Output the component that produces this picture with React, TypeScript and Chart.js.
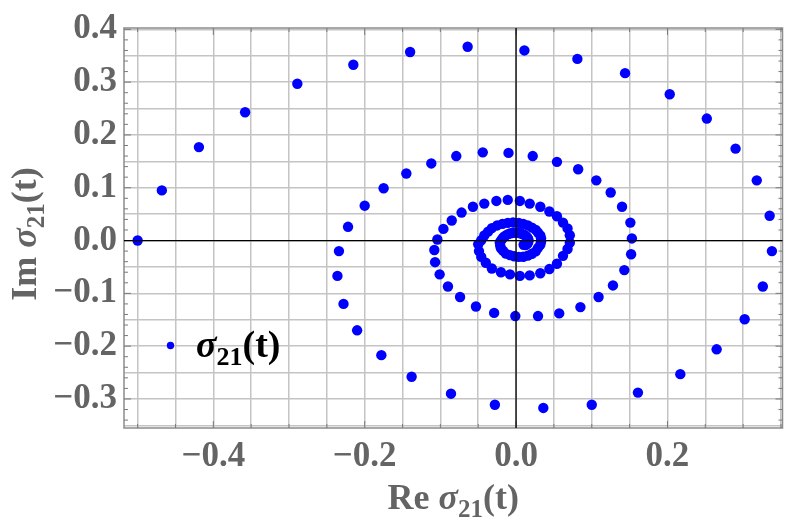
import React, { useEffect, useRef } from 'react';
import { Chart, registerables } from 'chart.js';

Chart.register(...registerables);

// Re σ21(t) and Im σ21(t) samples
const reValues = [
  -0.500, -0.468, -0.419, -0.358, -0.289, -0.215, -0.140, -0.064, 0.011, 0.081, 0.144, 0.203, 0.252, 0.290, 0.318, 0.335,
  0.338, 0.326, 0.302, 0.265, 0.217, 0.161, 0.100, 0.036, -0.028, -0.086, -0.138, -0.178, -0.210, -0.228, -0.236,
  -0.234, -0.222, -0.200, -0.175, -0.145, -0.112, -0.079, -0.044, -0.010, 0.022, 0.054, 0.082, 0.106, 0.125, 0.140,
  0.151, 0.153, 0.152, 0.143, 0.128, 0.109, 0.085, 0.057, 0.029, -0.001, -0.029, -0.053, -0.074, -0.090, -0.101, -0.107,
  -0.108, -0.104, -0.096, -0.085, -0.072, -0.057, -0.042, -0.026, -0.011, 0.005, 0.018, 0.032, 0.044, 0.054, 0.062,
  0.068, 0.071, 0.071, 0.068, 0.062, 0.054, 0.044, 0.032, 0.018, 0.005, -0.008, -0.020, -0.032, -0.040, -0.046, -0.049, -0.050,
  -0.046, -0.042, -0.037, -0.032, -0.025, -0.018, -0.011, -0.004, 0.0035, 0.0095, 0.0155, 0.021, 0.026, 0.029, 0.032,
  0.033, 0.033, 0.032, 0.029, 0.026, 0.021, 0.0155, 0.0095, 0.0035, -0.0025, -0.008, -0.0135, -0.017, -0.020, -0.021, -0.0215,
  -0.020, -0.018, -0.016, -0.013, -0.010, -0.007, -0.004, -0.0007, 0.0027, 0.0054, 0.0081, 0.0107, 0.0128, 0.0145,
  0.0156, 0.0163, 0.0163, 0.0157, 0.0145, 0.0125, 0.0100,
];
const imValues = [
  0.000, 0.095, 0.177, 0.243, 0.297, 0.333, 0.357, 0.367, 0.360, 0.344, 0.317, 0.277, 0.231, 0.174, 0.114, 0.047,
  -0.020, -0.087, -0.149, -0.206, -0.253, -0.288, -0.311, -0.317, -0.311, -0.290, -0.258, -0.217, -0.170, -0.120, -0.067,
  -0.020, 0.026, 0.066, 0.099, 0.127, 0.146, 0.160, 0.167, 0.166, 0.160, 0.149, 0.135, 0.114, 0.091, 0.064,
  0.034, 0.004, -0.026, -0.056, -0.085, -0.107, -0.126, -0.138, -0.143, -0.143, -0.137, -0.125, -0.107, -0.087, -0.064, -0.041,
  -0.018, 0.002, 0.022, 0.038, 0.053, 0.064, 0.070, 0.075, 0.077, 0.075, 0.070, 0.064, 0.055, 0.046, 0.034,
  0.023, 0.010, -0.004, -0.016, -0.029, -0.044, -0.054, -0.062, -0.066, -0.067, -0.064, -0.060, -0.053, -0.042, -0.031, -0.020, -0.007,
  0.0006, 0.0096, 0.0168, 0.0236, 0.0286, 0.0315, 0.0334, 0.0343, 0.0334, 0.0315, 0.0286, 0.0244, 0.0202, 0.0151, 0.0098,
  0.0042, -0.0022, -0.0079, -0.0138, -0.0205, -0.0250, -0.0285, -0.0306, -0.0309, -0.0298, -0.0277, -0.0247, -0.0197, -0.0146, -0.0096, -0.0037,
  -0.0003, 0.0038, 0.0071, 0.0102, 0.0125, 0.0138, 0.0147, 0.0151, 0.0147, 0.0138, 0.0125, 0.0106, 0.0086, 0.0063,
  0.0039, 0.0014, -0.0015, -0.0041, -0.0068, -0.0085, -0.0080,
];

const xGridValues = [-0.5, -0.45, -0.4, -0.35, -0.3, -0.25, -0.2, -0.15, -0.1, -0.05, 0, 0.05, 0.1, 0.15, 0.2, 0.25, 0.3, 0.35];
const xLabelValues = [-0.4, -0.2, 0, 0.2];
const yGridValues = [-0.35, -0.3, -0.25, -0.2, -0.15, -0.1, -0.05, 0, 0.05, 0.1, 0.15, 0.2, 0.25, 0.3, 0.35, 0.4];
const yLabelValues = [-0.3, -0.2, -0.1, 0, 0.1, 0.2, 0.3, 0.4];

const X_MIN = -0.518;
const X_MAX = 0.352;
const Y_MIN = -0.355;
const Y_MAX = 0.4025;

const FF = '"Liberation Serif", "Times New Roman", serif';
const GRAY = '#646464';

const fmt = (v: number) => {
  const s = Math.abs(v).toFixed(1);
  return v < -1e-9 ? '\u2212' + s : s;
};
const inList = (v: number, list: number[]) => list.some((l) => Math.abs(l - v) < 1e-9);

type Part = { t: string; f: string; dy?: number };

const titleParts = (label: string, size: number, sub: number): Part[] => [
  ...(label ? [{ t: label + ' ', f: `bold ${size}px ${FF}` }] : []),
  { t: '\u03C3', f: `italic bold ${size}px ${FF}` },
  { t: '21', f: `bold ${sub}px ${FF}`, dy: Math.round(size * 0.22) },
  { t: '(t)', f: `bold ${size}px ${FF}` },
];

function richWidth(ctx: CanvasRenderingContext2D, parts: Part[]) {
  let w = 0;
  for (const p of parts) {
    ctx.font = p.f;
    w += ctx.measureText(p.t).width;
  }
  return w;
}

function drawRich(ctx: CanvasRenderingContext2D, parts: Part[], x: number, y: number, color: string) {
  let cx = x;
  ctx.fillStyle = color;
  ctx.textBaseline = 'alphabetic';
  ctx.textAlign = 'left';
  for (const p of parts) {
    ctx.font = p.f;
    ctx.fillText(p.t, cx, y + (p.dy || 0));
    cx += ctx.measureText(p.t).width;
  }
}

const decorPlugin = {
  id: 'decor',
  afterDatasetsDraw(chart: any) {
    const { ctx, chartArea: a, scales } = chart;
    const xs = scales.x;
    const ys = scales.y;
    ctx.save();
    // frame
    ctx.strokeStyle = '#8c8c8c';
    ctx.lineWidth = 1.5;
    ctx.strokeRect(a.left, a.top, a.right - a.left, a.bottom - a.top);
    // frame ticks
    ctx.lineWidth = 1;
    ctx.strokeStyle = '#7a7a7a';
    ctx.beginPath();
    for (let k = -17; k <= 20; k++) {
      const py = ys.getPixelForValue(k * 0.02);
      if (py < a.top - 0.5 || py > a.bottom + 0.5) continue;
      const len = k % 5 === 0 ? 7 : 4;
      ctx.moveTo(a.left, py); ctx.lineTo(a.left + len, py);
      ctx.moveTo(a.right, py); ctx.lineTo(a.right - len, py);
    }
    for (let k = -10; k <= 7; k++) {
      const px = xs.getPixelForValue(k * 0.05);
      if (px < a.left - 0.5 || px > a.right + 0.5) continue;
      const len = k % 4 === 0 ? 7 : 4;
      ctx.moveTo(px, a.bottom); ctx.lineTo(px, a.bottom - len);
      ctx.moveTo(px, a.top); ctx.lineTo(px, a.top + len);
    }
    ctx.stroke();
    // zero axes on top
    ctx.strokeStyle = '#000';
    ctx.lineWidth = 1.3;
    const x0 = xs.getPixelForValue(0);
    const y0 = ys.getPixelForValue(0);
    ctx.beginPath();
    ctx.moveTo(x0, a.top); ctx.lineTo(x0, a.bottom);
    ctx.moveTo(a.left, y0); ctx.lineTo(a.right, y0);
    ctx.stroke();
    ctx.restore();
  },
  afterDraw(chart: any) {
    const { ctx, chartArea: a } = chart;
    ctx.save();
    // bottom axis title
    const bt = titleParts('Re', 36, 25);
    const bw = richWidth(ctx, bt);
    drawRich(ctx, bt, (a.left + a.right) / 2 - bw / 2, 509, GRAY);
    // left axis title
    const lt = titleParts('Im', 36, 25);
    const lw = richWidth(ctx, lt);
    ctx.translate(36, (a.top + a.bottom) / 2 + 6);
    ctx.rotate(-Math.PI / 2);
    drawRich(ctx, lt, -lw / 2, 0, GRAY);
    ctx.restore();
    // legend
    ctx.save();
    ctx.fillStyle = '#0000ff';
    ctx.beginPath();
    ctx.arc(170.5, 345.5, 3.7, 0, Math.PI * 2);
    ctx.fill();
    drawRich(ctx, titleParts('', 38, 26), 196, 357, '#000');
    ctx.restore();
  },
};

export default function App() {
  const ref = useRef<HTMLCanvasElement | null>(null);
  useEffect(() => {
    if (!ref.current) return;
    const tickFont = { family: FF, size: 35, weight: 'bold' as const };
    const chart = new Chart(ref.current, {
      type: 'scatter',
      data: {
        datasets: [
          {
            label: '\u03C3\u2082\u2081(t)',
            data: reValues.map((x, i) => ({ x, y: imValues[i] })),
            backgroundColor: '#0000ff',
            borderWidth: 0,
            pointRadius: 5.2,
            pointHoverRadius: 5.2,
          },
        ],
      },
      options: {
        responsive: false,
        animation: false,
        events: [],
        layout: { padding: { top: 19, right: 4, left: 0, bottom: 0 } },
        plugins: { legend: { display: false }, tooltip: { enabled: false } },
        scales: {
          x: {
            type: 'linear',
            min: X_MIN,
            max: X_MAX,
            afterBuildTicks: (s: any) => {
              s.ticks = xGridValues.map((v) => ({ value: v }));
            },
            afterFit: (s: any) => {
              s.height = 96;
            },
            grid: { color: '#c4c4c4', lineWidth: 1.5, drawTicks: false },
            border: { display: false },
            ticks: {
              autoSkip: false,
              maxRotation: 0,
              padding: 8,
              color: GRAY,
              font: tickFont,
              callback: (v: any) => (inList(Number(v), xLabelValues) ? fmt(Number(v)) : ''),
            },
          },
          y: {
            type: 'linear',
            min: Y_MIN,
            max: Y_MAX,
            afterBuildTicks: (s: any) => {
              s.ticks = yGridValues.map((v) => ({ value: v }));
            },
            afterFit: (s: any) => {
              s.width = 124;
            },
            grid: { color: '#c4c4c4', lineWidth: 1.5, drawTicks: false },
            border: { display: false },
            ticks: {
              autoSkip: false,
              padding: 7,
              color: GRAY,
              font: tickFont,
              callback: (v: any) => (inList(Number(v), yLabelValues) ? fmt(Number(v)) : ''),
            },
          },
        },
      },
      plugins: [decorPlugin],
    });
    return () => chart.destroy();
  }, []);
  return (
    <div style={{ position: 'fixed', left: 0, top: 0, width: 789, height: 524, background: '#fff' }}>
      <canvas ref={ref} width={789} height={524} style={{ display: 'block' }} />
    </div>
  );
}
